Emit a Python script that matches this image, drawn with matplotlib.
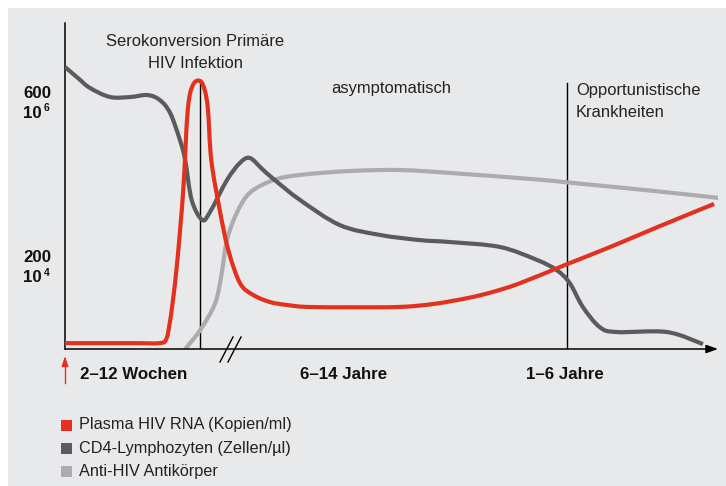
import numpy as np
import matplotlib.pyplot as plt
from matplotlib.patches import Rectangle, PathPatch
from matplotlib.path import Path

plt.rcParams['font.family'] = ['Liberation Sans', 'DejaVu Sans']

# time axis in % of the timeline, level in % of the axis height
rna_t = [0, 10.0, 14.5, 15.5, 16.0, 16.5, 17.2, 18.1, 18.8, 19.6, 20.7, 21.4, 21.9,
         22.4, 23.7, 25.0, 26.8, 28.8, 31.4, 34.0, 37.1, 44.0, 51.3, 56.4, 61.6,
         65.5, 69.7, 76.6, 83.5, 91.1, 99.4]
rna_v = [1.8, 1.8, 1.8, 3.0, 7.5, 14.5, 27.0, 48.5, 73.3, 81.0, 82.2, 79.4, 73.3,
         58.0, 42.6, 30.4, 20.2, 16.6, 14.4, 13.5, 12.9, 12.8, 12.9, 13.8, 15.6,
         17.5, 20.2, 25.8, 31.3, 37.7, 44.5]

cd4_t = [0, 2.0, 3.8, 6.9, 10.0, 12.6, 14.5, 16.1, 17.6, 18.4, 19.4, 21.0, 22.2,
         24.8, 26.8, 28.3, 30.2, 31.9, 36.0, 42.1, 48.2, 54.4, 59.0, 66.6, 72.3,
         75.3, 77.3, 79.3, 81.9, 84.5, 92.2, 97.7]
cd4_v = [86.5, 83.1, 80.1, 77.3, 77.3, 77.9, 76.4, 72.4, 64.1, 58.0, 45.7, 39.6,
         42.0, 51.8, 57.1, 58.6, 55.2, 52.2, 45.7, 38.0, 35.0, 33.4, 32.8, 31.3,
         27.3, 24.2, 20.2, 12.9, 6.7, 5.2, 5.2, 1.5]

ak_t = [18.4, 20.7, 23.0, 24.0, 24.8, 26.3, 28.3, 31.9, 36.0, 43.6, 51.3, 59.0,
        72.3, 76.9, 89.6, 100.3]
ak_v = [0, 5.8, 14.1, 23.3, 33.4, 41.7, 47.9, 51.8, 53.4, 54.6, 54.9, 54.0,
        52.0, 51.1, 48.6, 46.3]

phase_t = [20.7, 76.9]     # vertical markers
phase_top = [82.2, 81.6]

series = ["Plasma HIV RNA (Kopien/ml)", "CD4-Lymphozyten (Zellen/µl)", "Anti-HIV Antikörper"]
colors = ["#e2321f", "#5b5b5d", "#acacae"]

W, H = 726, 486
fig = plt.figure(figsize=(W / 100, H / 100), dpi=100)
fig.patch.set_facecolor("white")
fig.patches.append(Rectangle((8 / W, 0), 1, 1 - 8 / H, transform=fig.transFigure,
                             facecolor="#e8e9eb", edgecolor="none", zorder=-10))


def fx(px):
    return px / W


def fy(py):
    return 1 - py / H


def smooth_path(xs, ys):
    # cubic bezier path through the points (catmull-rom tangents), drawn by matplotlib
    p = np.column_stack([xs, ys]).astype(float)
    verts = [p[0]]
    codes = [Path.MOVETO]
    for i in range(len(p) - 1):
        p0 = p[i - 1] if i > 0 else p[i]
        p3 = p[i + 2] if i + 2 < len(p) else p[i + 1]
        c1 = p[i] + (p[i + 1] - p0) / 6.0
        c2 = p[i + 1] - (p3 - p[i]) / 6.0
        verts += [c1, c2, p[i + 1]]
        codes += [Path.CURVE4] * 3
    return Path(verts, codes)


ax = fig.add_axes([fx(65), fy(349), (718 - 65) / W, (349 - 23) / H])
ax.set_xlim(0, 100)
ax.set_ylim(0, 100)
ax.patch.set_alpha(0)
for s in ["top", "right", "bottom"]:
    ax.spines[s].set_visible(False)
ax.spines["left"].set_linewidth(1.1)
ax.set_xticks([])
ax.set_yticks([])

# x axis with arrow head
ax.annotate("", xy=(1.0, 0), xytext=(0, 0), xycoords="axes fraction",
            arrowprops=dict(arrowstyle="-|>,head_length=0.7,head_width=0.25",
                            color="black", lw=1.1, shrinkA=0, shrinkB=0),
            annotation_clip=False)

for t, top in zip(phase_t, phase_top):
    ax.plot([t, t], [0, top], color="black", lw=1.0, zorder=1)

for (t, v, c, z) in [(ak_t, ak_v, colors[2], 2), (cd4_t, cd4_v, colors[1], 3), (rna_t, rna_v, colors[0], 4)]:
    ax.add_patch(PathPatch(smooth_path(t, v), facecolor="none", edgecolor=c, lw=3.0,
                           capstyle="butt", joinstyle="round", zorder=z))

# break marks on the time axis
for x0 in (220, 228):
    fig.add_artist(plt.Line2D([fx(x0), fx(x0 + 13)], [fy(362), fy(337)], color="black", lw=1.0))

# red arrow at the origin
fig.add_artist(plt.Line2D([fx(65), fx(65)], [fy(383), fy(364)], color=colors[0], lw=1.0))
ax.annotate("", xy=(fx(65), fy(356)), xytext=(fx(65), fy(366)), xycoords="figure fraction",
            arrowprops=dict(arrowstyle="-|>,head_length=0.6,head_width=0.2",
                            color=colors[0], lw=1.0, shrinkA=0, shrinkB=0))

fs = 11.9
fig.text(fx(195), fy(42), "Serokonversion Primäre", ha="center", va="center", fontsize=fs, color="#222")
fig.text(fx(195), fy(63), "HIV Infektion", ha="center", va="center", fontsize=fs, color="#222")
fig.text(fx(391), fy(88), "asymptomatisch", ha="center", va="center", fontsize=fs, color="#222")
fig.text(fx(576), fy(90), "Opportunistische", ha="left", va="center", fontsize=fs, color="#222")
fig.text(fx(576), fy(112), "Krankheiten", ha="left", va="center", fontsize=fs, color="#222")

bfs = 12.2
for lab, sup, y1, y2 in [("600", "6", 93, 113), ("200", "4", 257, 278)]:
    fig.text(fx(23), fy(y1), lab, ha="left", va="center", fontsize=bfs, fontweight="bold", color="#111")
    fig.text(fx(23), fy(y2), "10", ha="left", va="center", fontsize=bfs, fontweight="bold", color="#111")
    fig.text(fx(43.5), fy(y2 - 5), sup, ha="left", va="center", fontsize=7.5, fontweight="bold", color="#111")

fig.text(fx(80), fy(374), "2–12 Wochen", ha="left", va="center", fontsize=bfs, fontweight="bold", color="#111")
fig.text(fx(344), fy(374), "6–14 Jahre", ha="center", va="center", fontsize=bfs, fontweight="bold", color="#111")
fig.text(fx(565), fy(374), "1–6 Jahre", ha="center", va="center", fontsize=bfs, fontweight="bold", color="#111")

# legend
for i, (name, c) in enumerate(zip(series, colors)):
    yc = 425 + i * 23
    fig.patches.append(Rectangle((fx(61), fy(yc + 5.5)), 11 / W, 11 / H, transform=fig.transFigure,
                                 facecolor=c, edgecolor="none"))
    fig.text(fx(79), fy(yc), name, ha="left", va="center", fontsize=11.7, color="#222")

fig.savefig("out.png", dpi=100, facecolor=fig.get_facecolor())
